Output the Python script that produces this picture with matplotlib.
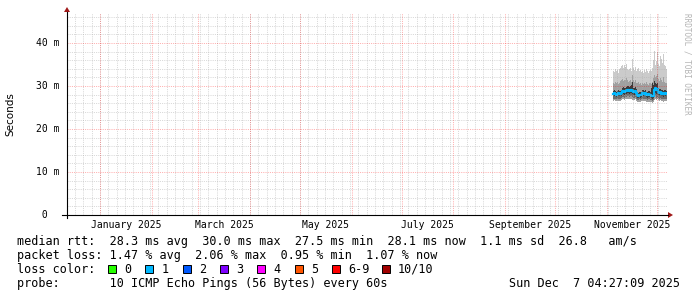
import matplotlib
matplotlib.use("Agg")
import matplotlib.pyplot as plt
from matplotlib.lines import Line2D
from matplotlib.patches import Polygon, Rectangle
from matplotlib import transforms
import matplotlib.dates as mdates
import pandas as pd
import numpy as np

# graph window: last 360 days
t_start = pd.Timestamp("2024-12-12 04:27:09")
t_end = pd.Timestamp("2025-12-07 04:27:09")

# rrd steps with data (864 min each)
first_step = "2025-11-04 19:00"
n_steps = 54

# sorted ping values per step, ms
median = [28.1, 28.3, 28.2, 28.0, 28.2, 28.3, 28.1, 28.2, 28.4, 28.8,
          28.9, 28.7, 28.8, 28.9, 29.0, 29.1, 28.9, 29.0, 29.2, 28.9,
          28.6, 28.7, 28.8, 28.5, 27.9, 27.8, 28.0, 27.9, 28.0, 28.3,
          28.4, 28.2, 28.3, 28.0, 27.9, 28.1, 28.0, 27.9, 27.7, 27.6,
          27.8, 29.2, 29.5, 29.1, 29.4, 28.7, 28.5, 28.6, 28.2, 28.3,
          28.1, 28.2, 28.3, 28.2]
ping_top = [33.6, 33.2, 34.0, 33.5, 33.8, 33.1, 33.9, 34.3, 34.6, 35.0,
            34.2, 34.8, 34.4, 35.2, 34.0, 33.7, 33.9, 34.1, 33.6, 36.4,
            34.2, 33.8, 34.5, 33.6, 33.9, 34.3, 33.4, 33.8, 33.2, 33.6,
            33.0, 33.7, 33.3, 33.9, 33.4, 33.1, 33.6, 33.8, 33.5, 34.2,
            36.0, 38.1, 35.0, 35.8, 37.9, 35.2, 34.6, 37.0, 36.2, 35.4,
            37.4, 35.0, 34.6, 34.0]
ping_upper = [30.8, 30.5, 31.0, 30.6, 30.9, 30.4, 30.7, 31.1, 31.3, 31.6,
              31.2, 31.5, 31.4, 31.8, 31.3, 31.0, 31.2, 31.4, 31.0, 32.5,
              31.3, 31.0, 31.4, 30.8, 30.6, 30.9, 30.4, 30.7, 30.3, 30.6,
              30.4, 30.8, 30.5, 30.9, 30.4, 30.2, 30.6, 30.8, 30.5, 31.0,
              31.8, 32.6, 32.0, 32.4, 32.8, 31.6, 31.2, 31.9, 31.5, 31.0,
              32.0, 31.0, 30.8, 30.6]
ping_dark_hi = [28.8, 29.0, 28.9, 28.7, 28.9, 29.0, 28.8, 28.9, 29.2, 29.6,
                29.7, 29.5, 29.6, 29.8, 29.9, 30.0, 29.8, 29.9, 30.2, 30.9,
                29.6, 29.5, 29.7, 29.3, 28.6, 28.5, 28.7, 28.6, 28.7, 29.0,
                29.1, 28.9, 29.0, 28.7, 28.6, 28.8, 28.8, 28.7, 29.6, 30.6,
                30.2, 31.2, 30.8, 30.4, 30.6, 29.6, 29.3, 29.4, 29.0, 29.1,
                28.9, 29.0, 29.1, 28.9]
ping_dark_lo = [27.6, 27.7, 27.7, 27.5, 27.6, 27.7, 27.6, 27.6, 27.8, 28.1,
                28.2, 28.0, 28.1, 28.2, 28.3, 28.4, 28.2, 28.3, 28.4, 28.2,
                27.9, 28.0, 28.1, 27.8, 27.3, 27.3, 27.4, 27.3, 27.4, 27.6,
                27.7, 27.6, 27.7, 27.4, 27.3, 27.5, 27.4, 27.4, 27.2, 27.1,
                27.3, 28.3, 28.5, 28.2, 28.4, 27.9, 27.8, 27.9, 27.6, 27.7,
                27.5, 27.6, 27.7, 27.6]
ping_lower = [27.0, 27.1, 27.0, 26.9, 27.0, 27.1, 27.0, 27.0, 27.2, 27.4,
              27.5, 27.3, 27.4, 27.5, 27.6, 27.6, 27.5, 27.6, 27.6, 27.4,
              27.2, 27.3, 27.4, 27.1, 26.8, 26.8, 26.9, 26.8, 26.9, 27.0,
              27.1, 27.0, 27.1, 26.9, 26.8, 26.9, 26.9, 26.8, 26.7, 26.6,
              26.8, 27.4, 27.6, 27.3, 27.5, 27.2, 27.1, 27.2, 27.0, 27.1,
              26.9, 27.0, 27.1, 27.0]
ping_bottom = [26.6, 26.7, 26.6, 26.5, 26.6, 26.6, 26.5, 26.6, 26.7, 26.9,
               27.0, 26.8, 26.9, 27.0, 27.0, 27.1, 26.9, 27.0, 27.1, 26.8,
               26.7, 26.8, 26.9, 26.6, 26.4, 26.3, 26.4, 26.4, 26.5, 26.6,
               26.6, 26.5, 26.6, 26.4, 26.3, 26.4, 26.4, 26.3, 26.2, 26.1,
               26.3, 26.8, 27.0, 26.7, 26.9, 26.7, 26.6, 26.7, 26.5, 26.6,
               26.4, 26.5, 26.6, 26.5]

y_ticks = [0, 10, 20, 30, 40]
y_labels = [" 0", "10 m", "20 m", "30 m", "40 m"]
month_labels = ["2025-01", "2025-03", "2025-05", "2025-07", "2025-09", "2025-11"]

loss_names = ["0", "1", "2", "3", "4", "5", "6-9", "10/10"]
loss_colors = ["#26ff00", "#00b8ff", "#0059ff", "#7e00ff", "#ff00ff",
               "#ff5500", "#ff0000", "#a10000"]

legend_lines = [
    "median rtt:  28.3 ms avg  30.0 ms max  27.5 ms min  28.1 ms now  1.1 ms sd  26.8   am/s",
    "packet loss: 1.47 % avg  2.06 % max  0.95 % min  1.07 % now",
    "loss color:",
    "probe:       10 ICMP Echo Pings (56 Bytes) every 60s",
]
stamp = "Sun Dec  7 04:27:09 2025"

W, H = 697, 297
MONO = "DejaVu Sans Mono"

fig = plt.figure(figsize=(W / 100, H / 100), dpi=100)
fig.patch.set_facecolor("white")


def px(x, y):
    return (x / W, 1 - y / H)


ax = fig.add_axes([67 / W, (H - 215) / H, 600 / W, 202 / H])
ax.set_xlim(mdates.date2num(t_start), mdates.date2num(t_end))
ax.set_ylim(0, 47.0)
for s in ax.spines.values():
    s.set_visible(False)
ax.set_xticks([])
ax.set_yticks([])

# smoke
t = pd.date_range(first_step, periods=n_steps, freq="864min")
tt = mdates.date2num(list(t) + [t_end])


def ext(v):
    return np.array(v + [v[-1]])


bands = [
    (ping_bottom, ping_lower, "#a2a2a2"),
    (ping_lower, ping_dark_lo, "#6e6e6e"),
    (ping_dark_lo, ping_dark_hi, "#3a3a3a"),
    (ping_dark_hi, ping_upper, "#a0a0a0"),
    (ping_upper, ping_top, "#cbcbcb"),
]
for lo, hi, c in bands:
    ax.fill_between(tt, ext(lo), ext(hi), step="post", color=c, lw=0, zorder=2)
ax.plot(tt, ext(median), drawstyle="steps-post", color="#00b8ff", lw=1.6, zorder=3)

# grid (drawn on top, like rrdtool)
dot = (0, (1, 1.2))
grid_kw = dict(lw=0.72, ls=dot)
for v in range(2, 47, 2):
    if v % 10:
        ax.axhline(v, color="#b0b0b0", alpha=0.5, zorder=4, **grid_kw)
for d in pd.date_range("2024-12-12", t_end, freq="5D"):
    ax.axvline(mdates.date2num(d), color="#b0b0b0", alpha=0.5, zorder=4, **grid_kw)
for v in y_ticks[1:]:
    ax.axhline(v, color="#ff0000", alpha=0.32, zorder=5, **grid_kw)
for d in pd.date_range("2025-01-01", t_end, freq="MS"):
    ax.axvline(mdates.date2num(d), color="#ff0000", alpha=0.32, zorder=5, **grid_kw)

# axis lines with arrows
fig.add_artist(Line2D([62 / W, 668 / W], [1 - 215 / H] * 2, color="black", lw=0.8))
fig.add_artist(Line2D([67 / W] * 2, [1 - 218 / H, 1 - 12 / H], color="black", lw=0.8))
fig.add_artist(Polygon([px(668, 212), px(668, 218), px(673, 215)], closed=True,
                       color="#a01818", lw=0))
fig.add_artist(Polygon([px(64, 12), px(70, 12), px(67, 7)], closed=True,
                       color="#a01818", lw=0))

# tick labels
ytr = transforms.blended_transform_factory(fig.transFigure, ax.transData)
for v, lab in zip(y_ticks, y_labels):
    ax.text(36 / W, v, lab, transform=ytr, ha="left", va="center",
            family=MONO, size=7, color="#000000")
xtr = transforms.blended_transform_factory(ax.transData, ax.transAxes)
for m in month_labels:
    a = pd.Timestamp(m + "-01")
    b = a + pd.offsets.MonthBegin(1)
    mid = a + (b - a) / 2
    ax.text(mdates.date2num(mid), -9.5 / 202, a.strftime("%B %Y"), transform=xtr,
            ha="center", va="center", family=MONO, size=7, clip_on=False)

fig.text(10 / W, 1 - 114 / H, "Seconds", rotation=90, ha="center", va="center",
         family="DejaVu Sans", size=7.5)
fig.text(687 / W, 1 - 64 / H, "RRDTOOL / TOBI OETIKER", rotation=270, ha="center",
         va="center", family=MONO, size=5.5, color="#b4b4b4")

# legend
baselines = [245, 259, 273, 287]
for line, yb in zip(legend_lines, baselines):
    fig.text(16.7 / W, 1 - yb / H, line, ha="left", va="baseline", family=MONO, size=8.5)
fig.text(680 / W, 1 - 287 / H, stamp, ha="right", va="baseline", family=MONO, size=8.5)

box_x = [108, 145.3, 182.7, 220, 257.3, 294.7, 332, 382]
for bx, name, c in zip(box_x, loss_names, loss_colors):
    fig.add_artist(Rectangle(px(bx, 273), 8 / W, 8 / H, facecolor=c,
                             edgecolor="black", lw=0.7))
    fig.text((bx + 16) / W, 1 - 273 / H, name, ha="left", va="baseline",
             family=MONO, size=8.5)

fig.savefig("out.png", dpi=100, facecolor="white")
